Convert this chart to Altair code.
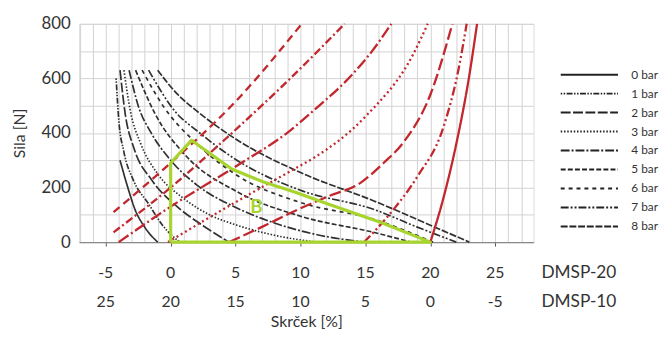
import altair as alt
import pandas as pd

FONT = "Lato"

# ---------------- data ----------------
pressures = ["0 bar", "1 bar", "2 bar", "3 bar", "4 bar", "5 bar", "6 bar", "7 bar", "8 bar"]
dash_patterns = [[1, 0], [1.5, 1.5, 1.5, 1.5, 6, 1.5], [10, 2.5], [1.5, 1.8],
                 [9, 2, 2, 2], [5, 2.2], [4, 4], [8, 2, 2, 2, 2, 2], [7, 1.8]]

# black family (force vs. contraction, one curve per pressure)
blk0_x = [-3.9, -3.3, -2.75, -2.0, -1.0]
blk0_f = [300, 200, 120, 55, 0]
blk1_x = [-4.2, -4.0, -3.6, -2.9, -1.7, -0.6, 0.7]
blk1_f = [600, 450, 330, 230, 140, 60, 0]
blk2_x = [-3.9, -3.5, -2.8, -1.5, 0.5, 2.5, 4.5]
blk2_f = [630, 470, 340, 230, 130, 60, 0]
blk3_x = [-3.6, -3.1, -2.3, -1.0, 1.0, 3.0, 5.1, 8.0, 11.2]
blk3_f = [630, 480, 360, 250, 160, 100, 62, 25, 0]
blk4_x = [-3.2, -2.5, -1.5, 0.0, 2.0, 5.1, 8.0, 11.0, 14.9]
blk4_f = [630, 500, 400, 300, 210, 125, 70, 30, 0]
blk5_x = [-2.7, -1.2, 1.1, 5.1, 10.0, 15.7, 18.5]
blk5_f = [630, 470, 320, 185, 95, 35, 0]
blk6_x = [-2.2, -0.45, 1.8, 5.1, 10.0, 15.7, 20.2]
blk6_f = [630, 490, 370, 245, 145, 83, 0]
blk7_x = [-1.7, 0.5, 2.0, 5.1, 10.0, 15.7, 19.0, 22.0]
blk7_f = [630, 470, 409, 300, 190, 119, 55, 0]
blk8_x = [-1.0, 0.5, 2.0, 5.1, 10.0, 15.7, 20.0, 23.0]
blk8_f = [630, 543, 481, 375, 255, 150, 62, 0]

# red family
red_ids = ["rA", "rB", "rC", "rD", "rE", "rF", "rG"]
red_dashes = [[8, 5], [8, 3, 2, 3], [12, 3, 2, 3], [2, 3], [12, 4], [9, 3, 2, 3, 2, 3], [1, 0]]
redA_x = [-4.4, 0.0, 5.0, 10.1]
redA_f = [110, 290, 515, 800]
redB_x = [-4.4, 0.0, 4.5, 9.0, 13.4]
redB_f = [36, 200, 390, 590, 800]
redC_x = [-4.0, 0.0, 5.1, 9.1, 11.2, 13.5, 15.5, 17.0]
redC_f = [0, 130, 280, 405, 490, 590, 699, 800]
redD_x = [-0.2, 5.1, 9.6, 11.1, 15.0, 18.7, 19.8]
redD_f = [0, 149, 270, 311, 460, 690, 800]
redE_x = [4.5, 7.0, 9.6, 12.0, 14.7, 16.4, 18.0, 20.0, 21.7]
redE_f = [0, 55, 115, 165, 220, 290, 370, 540, 800]
redF_x = [14.9, 17.0, 19.0, 21.0, 22.2, 22.8]
redF_f = [0, 110, 240, 420, 640, 800]
redG_x = [20.0, 21.0, 22.0, 23.0, 23.6]
redG_f = [0, 160, 360, 610, 800]

# green region B
green_x = [0, 0, 1.6, 4.7, 7.1, 9.6, 11.9, 16.2, 20, 0]
green_f = [0, 290, 373, 268, 221, 183, 143, 72, 0, 0]
region_label = ["B"]
region_x = [6.6]
region_f = [130]

# axis label rows
tick_vals = [-5, 0, 5, 10, 15, 20, 25]
row1_labels = ["-5", "0", "5", "10", "15", "20", "25"]
row2_labels = ["25", "20", "15", "10", "5", "0", "-5"]
row_names = ["DMSP-20", "DMSP-10"]

# ---------------- tables ----------------
rows = []
blk = [(blk0_x, blk0_f), (blk1_x, blk1_f), (blk2_x, blk2_f), (blk3_x, blk3_f), (blk4_x, blk4_f),
       (blk5_x, blk5_f), (blk6_x, blk6_f), (blk7_x, blk7_f), (blk8_x, blk8_f)]
for i, (xs, fs) in enumerate(blk):
    for j, (x, f) in enumerate(zip(xs, fs)):
        rows.append(dict(cid=f"k{i}", p=pressures[i], x=x, F=f, o=j))
black_df = pd.DataFrame(rows)

rows = []
red = [(redA_x, redA_f), (redB_x, redB_f), (redC_x, redC_f), (redD_x, redD_f),
       (redE_x, redE_f), (redF_x, redF_f), (redG_x, redG_f)]
for i, (xs, fs) in enumerate(red):
    for j, (x, f) in enumerate(zip(xs, fs)):
        rows.append(dict(rid=red_ids[i], x=x, F=f, o=j))
red_df = pd.DataFrame(rows)

green = pd.DataFrame(dict(x=green_x, F=green_f, o=list(range(len(green_x)))))
blabel = pd.DataFrame(dict(t=region_label, x=region_x, F=region_f))
row1 = pd.DataFrame(dict(x=tick_vals, t=row1_labels))
row2 = pd.DataFrame(dict(x=tick_vals, t=row2_labels))
names = pd.DataFrame(dict(t=row_names, r=[0, 1]))

# ---------------- scales / axes ----------------
xscale = alt.Scale(domain=[-7.05, 27.95], nice=False, zero=False)
yscale = alt.Scale(domain=[0, 800], nice=False)
xaxis = alt.Axis(values=list(range(-7, 28)), grid=True, gridColor="#d2d2d2", gridWidth=1,
                 labels=False, domain=True, domainColor="#8a8a8a", domainWidth=1.2,
                 ticks=True, tickColor="#555555", tickSize=4,
                 tickOpacity={"condition": {"test": "datum.value % 5 === 0", "value": 1}, "value": 0},
                 title="Skrček [%]", titleFont=FONT, titleFontSize=16, titleFontWeight="normal",
                 titleColor="#333333", titlePadding=68)
yaxis = alt.Axis(values=list(range(0, 801, 100)), grid=True, gridColor="#d2d2d2", gridWidth=1,
                 labelExpr="datum.value % 200 === 0 ? datum.label : ''",
                 domain=False, ticks=False, labelFont=FONT, labelFontSize=17, labelColor="#333333",
                 labelPadding=9, title="Sila [N]", titleFont=FONT, titleFontSize=16,
                 titleFontWeight="normal", titleColor="#333333", titlePadding=14)

X = alt.X("x:Q", scale=xscale, axis=xaxis)
Y = alt.Y("F:Q", scale=yscale, axis=yaxis)

black_lines = alt.Chart(black_df).mark_line(interpolate="monotone", color="#303030", strokeWidth=1.7).encode(
    x=X, y=Y,
    detail="cid:N",
    order="o:Q",
    strokeDash=alt.StrokeDash("p:N", scale=alt.Scale(domain=pressures, range=dash_patterns),
                              legend=alt.Legend(orient="none", legendX=508, legendY=43, title=None,
                                                symbolType="M-4,0H4", symbolSize=210,
                                                symbolStrokeWidth=2, symbolStrokeColor="#222222",
                                                labelOffset=34, labelFont=FONT, labelFontSize=12,
                                                labelColor="#333333", rowPadding=4.2)),
)

red_lines = alt.Chart(red_df).mark_line(interpolate="monotone", color="#c1272d", strokeWidth=2.3).encode(
    x=X, y=Y,
    detail="rid:N",
    order="o:Q",
    strokeDash=alt.StrokeDash("rid:N", scale=alt.Scale(domain=red_ids, range=red_dashes), legend=None),
)

greenline = alt.Chart(green).mark_line(color="#a8d42e", strokeWidth=3.2, strokeJoin="round").encode(
    x=X, y=Y, order="o:Q")

btext = alt.Chart(blabel).mark_text(color="#a8d42e", fontSize=19, fontWeight="bold", font=FONT).encode(
    x=X, y=Y, text="t:N")

r1 = alt.Chart(row1).mark_text(font=FONT, fontSize=16, color="#333333", baseline="middle").encode(
    x=X, y=alt.value(252), text="t:N")
r2 = alt.Chart(row2).mark_text(font=FONT, fontSize=16, color="#333333", baseline="middle").encode(
    x=X, y=alt.value(282), text="t:N")
n1 = alt.Chart(names).transform_filter("datum.r == 0").mark_text(
    font=FONT, fontSize=17.5, color="#333333", align="left", baseline="middle").encode(
    x=alt.value(468), y=alt.value(252), text="t:N")
n2 = alt.Chart(names).transform_filter("datum.r == 1").mark_text(
    font=FONT, fontSize=17.5, color="#333333", align="left", baseline="middle").encode(
    x=alt.value(468), y=alt.value(282), text="t:N")

chart = alt.layer(black_lines, red_lines, greenline, btext, r1, r2, n1, n2).resolve_scale(
    strokeDash="independent"
).properties(
    width=460, height=221,
    autosize=alt.AutoSizeParams(type="none"),
    padding={"left": 72, "top": 14, "right": 127, "bottom": 88},
).configure_view(stroke=None).configure(background="white")

chart.save("out.html", embed_options={"renderer": "svg", "actions": False})
